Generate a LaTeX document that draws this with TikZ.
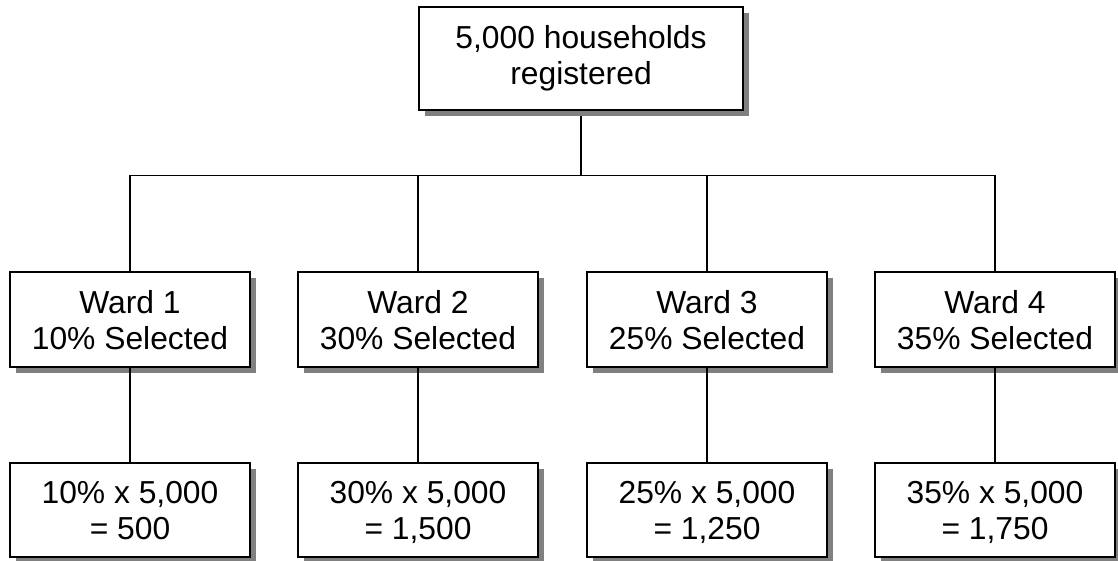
\documentclass[tikz,border=0pt]{standalone}
\usepackage{fontspec}
\setmainfont{Liberation Sans}
\usetikzlibrary{shadows}
\definecolor{shadowgray}{HTML}{808080}
\begin{document}
\begin{tikzpicture}[x=1pt,y=-1pt,
  box/.style={draw=black, line width=1.8pt, fill=white, inner sep=0pt, align=center,
    font=\fontsize{31.8}{36}\selectfont,
    drop shadow={shadow xshift=6pt, shadow yshift=-6pt, fill=shadowgray, opacity=1}},
  conn/.style={line width=1.7pt}]
\useasboundingbox (0,0) rectangle (1118,561);
% connectors
\coordinate (hb) at (581,175.5);
\draw[conn] (581,112) coordinate (tb) -- (hb);
\coordinate (h1) at (130,175.5);
\coordinate (h2) at (418,175.5);
\coordinate (h3) at (707,175.5);
\coordinate (h4) at (995,175.5);
\draw[conn] (h1) -- (h4);
% nodes
\node[box, minimum width=324pt, minimum height=103pt] (top) at (581,58.5) {5,000 households\\registered};
\foreach \i/\x/\p/\r in {1/130/10/500, 2/418/30/{1,500}, 3/707/25/{1,250}, 4/995/35/{1,750}}{
  \node[box, text depth=0pt, minimum width=240pt, minimum height=95pt] (w\i) at (\x,319.5) {Ward \i\\\p\% Selected};
  \node[box, text depth=0pt, minimum width=240pt, minimum height=94pt] (b\i) at (\x,510) {\p\% x 5,000\\= \r};
}
\foreach \i in {1,2,3,4}{
  \draw[conn] (h\i) -- (w\i.north);
  \draw[conn] (w\i.south) -- (b\i.north);
}
\end{tikzpicture}
\end{document}
